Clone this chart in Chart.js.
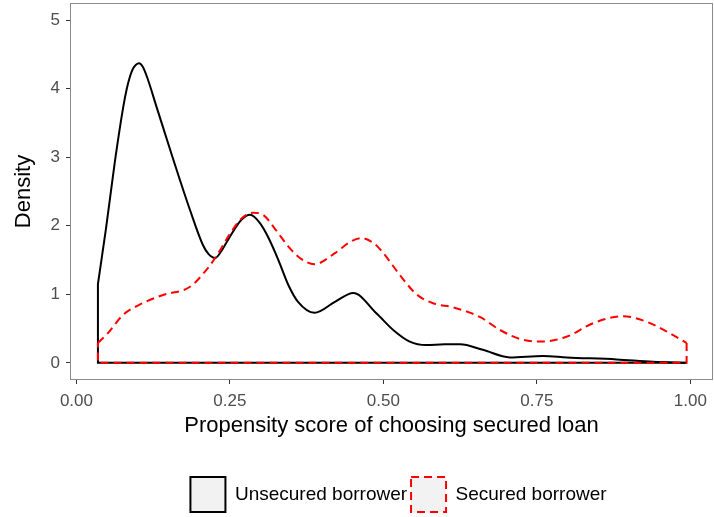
<!DOCTYPE html>
<html>
<head>
<meta charset="utf-8">
<script src="https://cdn.jsdelivr.net/npm/chart.js@4.4.0/dist/chart.umd.min.js"></script>
<style>
  html, body { margin: 0; padding: 0; background: #fff; }
  #wrap { width: 714px; height: 517px; }
</style>
</head>
<body>
<div id="wrap"><canvas id="density-canvas"></canvas></div>
<script>
// Density curves
const unsecuredX = [0.035, 0.048, 0.063, 0.076, 0.082, 0.087, 0.092, 0.097, 0.102, 0.108, 0.115, 0.131, 0.158, 0.185, 0.206, 0.215, 0.226, 0.238, 0.250, 0.268, 0.283, 0.298, 0.312, 0.329, 0.345, 0.361, 0.388, 0.421, 0.451, 0.489, 0.516, 0.543, 0.570, 0.600, 0.625, 0.662, 0.706, 0.760, 0.799, 0.880, 0.939, 0.994];
const unsecuredY = [1.15, 1.95, 2.96, 3.72, 4.00, 4.17, 4.29, 4.35, 4.37, 4.32, 4.17, 3.72, 2.96, 2.23, 1.72, 1.59, 1.53, 1.66, 1.84, 2.08, 2.16, 2.05, 1.84, 1.50, 1.14, 0.89, 0.73, 0.89, 1.02, 0.72, 0.48, 0.31, 0.26, 0.27, 0.27, 0.19, 0.08, 0.10, 0.08, 0.05, 0.015, 0.0];

const securedX = [0.035, 0.050, 0.076, 0.103, 0.141, 0.185, 0.212, 0.226, 0.250, 0.268, 0.288, 0.304, 0.323, 0.345, 0.364, 0.388, 0.421, 0.445, 0.464, 0.485, 0.500, 0.527, 0.554, 0.581, 0.614, 0.657, 0.690, 0.722, 0.755, 0.798, 0.842, 0.891, 0.929, 0.961, 0.994];
const securedY = [0.29, 0.42, 0.70, 0.85, 0.99, 1.11, 1.36, 1.53, 1.88, 2.10, 2.19, 2.16, 1.96, 1.70, 1.53, 1.44, 1.60, 1.76, 1.82, 1.74, 1.60, 1.28, 1.00, 0.87, 0.81, 0.67, 0.48, 0.35, 0.31, 0.38, 0.58, 0.68, 0.60, 0.46, 0.29];

const seriesLabels = ["Unsecured borrower", "Secured borrower"];
const xTicks = [0, 0.25, 0.5, 0.75, 1];
const yTicks = [0, 1, 2, 3, 4, 5];

const FONT = "'Liberation Sans', Arial, sans-serif";

function toPoints(xs, ys) {
  return xs.map((x, i) => ({ x: x, y: ys[i] }));
}

// closing edges of the density polygon (sides + baseline)
function outlinePoints(xs, ys) {
  const n = xs.length - 1;
  return [
    { x: xs[n], y: ys[n] },
    { x: xs[n], y: 0 },
    { x: xs[0], y: 0 },
    { x: xs[0], y: ys[0] },
  ];
}

// grey panel border round the plot area, legend nudged under the panel
const panelBorder = {
  id: "panelBorder",
  afterLayout(chart) {
    if (chart.legend) {
      chart.legend.left += 7;
      chart.legend.right += 7;
    }
  },
  afterDraw(chart) {
    const a = chart.chartArea;
    const ctx = chart.ctx;
    ctx.save();
    ctx.strokeStyle = "#8a8a8a";
    ctx.lineWidth = 1;
    ctx.strokeRect(a.left + 0.5, a.top + 0.5, a.right - a.left - 1, a.bottom - a.top - 1);
    ctx.restore();
  },
};

const ctx = document.getElementById("density-canvas").getContext("2d");
new Chart(ctx, {
  type: "line",
  data: {
    datasets: [
      {
        label: seriesLabels[1],
        data: toPoints(securedX, securedY),
        borderColor: "#ff0000",
        backgroundColor: "#f2f2f2",
        borderWidth: 2,
        borderDash: [8, 5],
        cubicInterpolationMode: "monotone",
        pointRadius: 0,
        fill: false,
        order: 0,
      },
      {
        label: "secured-edges",
        data: outlinePoints(securedX, securedY),
        borderColor: "#ff0000",
        borderWidth: 2,
        borderDash: [8, 5],
        tension: 0,
        pointRadius: 0,
        fill: false,
        order: 1,
      },
      {
        label: seriesLabels[0],
        data: toPoints(unsecuredX, unsecuredY),
        borderColor: "#000000",
        backgroundColor: "#f2f2f2",
        borderWidth: 2,
        cubicInterpolationMode: "monotone",
        pointRadius: 0,
        fill: false,
        order: 2,
      },
      {
        label: "unsecured-edges",
        data: outlinePoints(unsecuredX, unsecuredY),
        borderColor: "#000000",
        borderWidth: 2,
        tension: 0,
        pointRadius: 0,
        fill: false,
        order: 3,
      },
    ],
  },
  options: {
    responsive: true,
    maintainAspectRatio: false,
    animation: false,
    layout: { padding: { top: 3, right: 1, left: 0, bottom: -5 } },
    scales: {
      x: {
        type: "linear",
        min: -0.0105,
        max: 1.037,
        afterBuildTicks: (scale) => {
          scale.ticks = xTicks.map((v) => ({ value: v }));
        },
        afterFit: (scale) => {
          scale.height = 93;
          scale.paddingLeft = 0;
          scale.paddingRight = 0;
        },
        border: { display: false },
        grid: {
          display: true,
          drawOnChartArea: false,
          drawTicks: true,
          tickLength: 4,
          color: "#333333",
        },
        ticks: {
          padding: 7,
          color: "#4d4d4d",
          font: { family: FONT, size: 17 },
          maxRotation: 0,
          callback: (v) => v.toFixed(2),
        },
        title: {
          display: true,
          text: "Propensity score of choosing secured loan",
          color: "#000",
          font: { family: FONT, size: 22 },
          padding: { top: 0, bottom: 34 },
        },
      },
      y: {
        type: "linear",
        min: -0.25,
        max: 5.25,
        afterBuildTicks: (scale) => {
          scale.ticks = yTicks.map((v) => ({ value: v }));
        },
        afterFit: (scale) => {
          scale.width = 70;
          scale.paddingTop = 0;
          scale.paddingBottom = 0;
        },
        border: { display: false },
        grid: {
          display: true,
          drawOnChartArea: false,
          drawTicks: true,
          tickLength: 4,
          color: "#333333",
        },
        ticks: {
          padding: 6,
          color: "#4d4d4d",
          font: { family: FONT, size: 17 },
        },
        title: {
          display: true,
          text: "Density",
          color: "#000",
          font: { family: FONT, size: 22 },
          padding: { top: 11, bottom: 0 },
        },
      },
    },
    plugins: {
      legend: {
        display: true,
        position: "bottom",
        fullSize: false,
        reverse: true,
        labels: {
          boxWidth: 35,
          boxHeight: 35,
          padding: 4,
          color: "#000",
          font: { family: FONT, size: 19 },
          filter: (item) => seriesLabels.includes(item.text),
        },
      },
      tooltip: { enabled: false },
    },
  },
  plugins: [panelBorder],
});
</script>
</body>
</html>
